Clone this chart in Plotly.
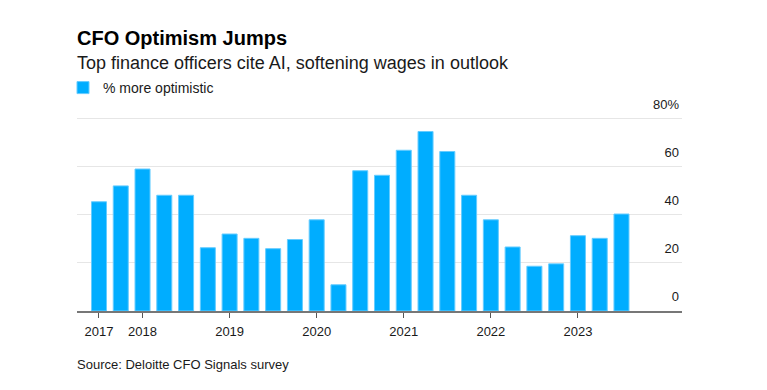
import plotly.graph_objects as go

quarters = ["3Q17", "4Q17", "1Q18", "2Q18", "3Q18", "4Q18", "1Q19", "2Q19", "3Q19", "4Q19",
            "1Q20", "2Q20", "3Q20", "4Q20", "1Q21", "2Q21", "3Q21", "4Q21", "1Q22", "2Q22",
            "3Q22", "4Q22", "1Q23", "2Q23", "3Q23"]
pct_more_optimistic = [45.4, 52.0, 59.0, 48.1, 48.1, 26.3, 32.0, 30.2, 25.9, 29.7,
                       37.9, 10.9, 58.3, 56.4, 66.8, 74.6, 66.3, 48.1, 37.9, 26.6,
                       18.6, 19.6, 31.3, 30.2, 40.3]
year_tick_quarters = ["3Q17", "1Q18", "1Q19", "1Q20", "1Q21", "1Q22", "1Q23"]
year_tick_labels = ["2017", "2018", "2019", "2020", "2021", "2022", "2023"]
y_tick_vals = [0, 20, 40, 60, 80]
y_tick_text = ["0", "20", "40", "60", "80%"]

W, H = 767, 390
PX_PER_UNIT = (311 - 118.5) / 80.0
L, R, B = 77, 682, 311
T = 92
Y_TOP = (B - T) / PX_PER_UNIT
FONT = "Liberation Sans, Arial, sans-serif"


def py(pix):
    return (B - pix) / (B - T)


def px(pix):
    return (pix - L) / (R - L)


fig = go.Figure()
fig.add_trace(go.Bar(
    x=quarters, y=pct_more_optimistic, name="% more optimistic",
    marker=dict(color="#00adff", line=dict(color="#66ccff", width=1)),
    width=0.69,
))

fig.update_layout(
    width=W, height=H,
    margin=dict(l=L, r=W - R, t=T, b=H - B, pad=0),
    paper_bgcolor="white", plot_bgcolor="white",
    font=dict(family=FONT, size=13, color="#1a1a1a"),
    showlegend=True,
    legend=dict(x=px(63), xanchor="left", y=py(88), yanchor="middle",
                orientation="h", font=dict(size=14, color="#1a1a1a"),
                bgcolor="rgba(0,0,0,0)", borderwidth=0),
)

fig.update_xaxes(
    type="category", range=[-1.01, 26.78],
    tickmode="array", tickvals=year_tick_quarters, ticktext=year_tick_labels,
    showgrid=False, showline=True, linecolor="#777777", linewidth=2,
    ticks="outside", ticklen=5, tickcolor="#555555", tickwidth=1,
    ticklabelstandoff=2,
    tickfont=dict(size=13, color="#1a1a1a"),
)
fig.update_yaxes(
    range=[0, Y_TOP], side="right",
    tickmode="array", tickvals=y_tick_vals, ticktext=y_tick_text,
    ticklabelposition="inside top", ticklabelshift=-5,
    showgrid=True, gridcolor="#e6e6e6", gridwidth=1,
    zeroline=False, showline=False, ticks="",
    tickfont=dict(size=13, color="#1a1a1a"),
)

fig.add_annotation(text="<b>CFO Optimism Jumps</b>", xref="paper", yref="paper",
                   x=0, y=py(38), xanchor="left", yanchor="middle", showarrow=False,
                   xshift=-2, font=dict(size=20, color="#000000", family=FONT))
fig.add_annotation(text="Top finance officers cite AI, softening wages in outlook",
                   xref="paper", yref="paper", x=0, y=py(63), xanchor="left",
                   yanchor="middle", showarrow=False, xshift=-2,
                   font=dict(size=18, color="#1a1a1a", family=FONT))
fig.add_annotation(text="Source: Deloitte CFO Signals survey", xref="paper", yref="paper",
                   x=0, y=py(364), xanchor="left", yanchor="middle", showarrow=False,
                   xshift=-2, font=dict(size=13, color="#1a1a1a", family=FONT))

fig.write_html("out.html", config={"displayModeBar": False},
               post_script="document.body.style.margin='0';document.body.style.padding='0';")
